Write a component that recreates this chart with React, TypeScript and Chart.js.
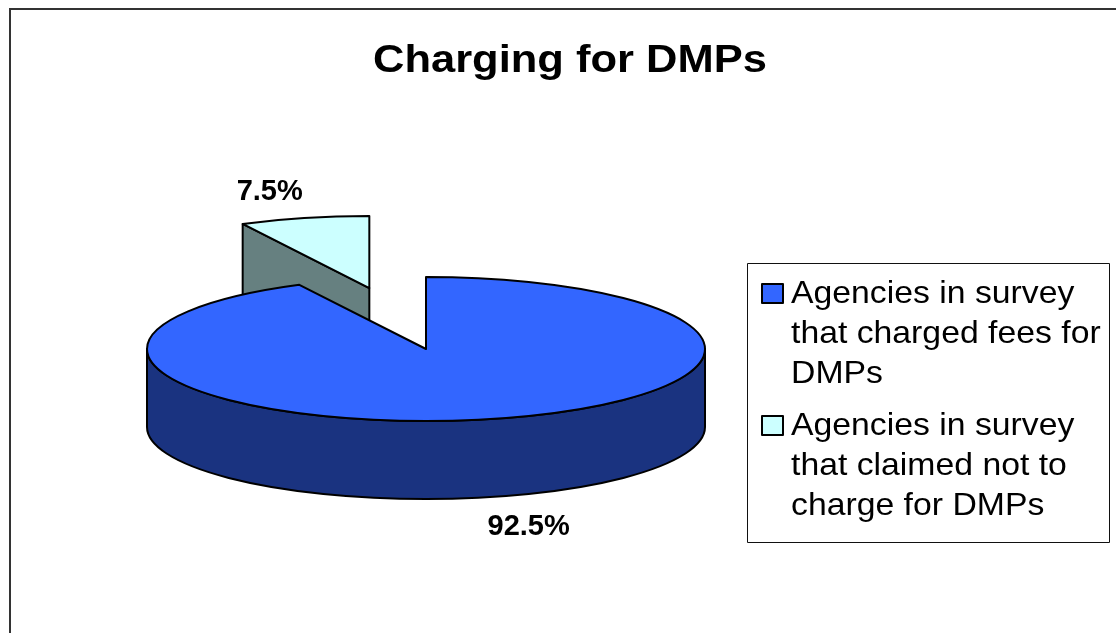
import React, { useEffect, useRef } from "react";
import { Chart, registerables } from "chart.js";

Chart.register(...registerables);

// ---- data ----
const TITLE = "Charging for DMPs";
const categories: string[][] = [
  ["Agencies in survey", "that charged fees for", "DMPs"],
  ["Agencies in survey", "that claimed not to", "charge for DMPs"],
];
const values: number[] = [92.5, 7.5];
const explodeFractions: number[] = [0, 0.87];

// ---- styles ----
const topColors = ["#3366FF", "#CCFFFF"];
const sideColors = ["#1A3380", "#668080"];
const W = 1108;
const H = 625;
const KX = 1.395; // horizontal stretch of the projected pie
const KY = 0.36; // vertical squash (tilt)
const KD = 0.39; // depth of the pie
const FONT = "Arial, 'Liberation Sans', Helvetica, sans-serif";

function visibleRanges(s: number, e: number): [number, number][] {
  const out: [number, number][] = [];
  for (let k = -2; k <= 2; k++) {
    const a = Math.max(s, 2 * Math.PI * k);
    const b = Math.min(e, 2 * Math.PI * k + Math.PI);
    if (b > a + 1e-6) out.push([a, b]);
  }
  return out;
}

function stretchedText(
  ctx: CanvasRenderingContext2D,
  text: string,
  x: number,
  y: number,
  sx: number,
  align: CanvasTextAlign
) {
  ctx.save();
  ctx.translate(x, y);
  ctx.scale(sx, 1);
  ctx.textAlign = align;
  ctx.fillText(text, 0, 0);
  ctx.restore();
}

const pie3dPlugin = {
  id: "pie3d",
  beforeDatasetsDraw() {
    return false;
  },
  afterDraw(chart: any) {
    const ctx: CanvasRenderingContext2D = chart.ctx;
    const meta = chart.getDatasetMeta(0);
    const slices = meta.data.map((el: any, i: number) => {
      const p = el.getProps(["x", "y", "startAngle", "endAngle", "outerRadius"], true);
      const R = p.outerRadius;
      const rx = R * KX;
      const ry = R * KY;
      const depth = R * KD;
      const mid = (p.startAngle + p.endAngle) / 2;
      const ex = explodeFractions[i] || 0;
      return {
        i,
        s: p.startAngle,
        e: p.endAngle,
        mid,
        rx,
        ry,
        depth,
        ox: p.x + Math.cos(mid) * ex * rx,
        oy: p.y + Math.sin(mid) * ex * ry,
      };
    });

    ctx.save();
    // frame
    ctx.fillStyle = "#333333";
    ctx.fillRect(1, 0, W, 2);
    ctx.fillRect(1, 0, 2, H);

    ctx.lineWidth = 2;
    ctx.lineJoin = "round";
    ctx.strokeStyle = "#000000";

    const order = [...slices].sort((a, b) => Math.sin(a.mid) - Math.sin(b.mid));
    for (const sl of order) {
      const { s, e, rx, ry, depth, ox, oy, i } = sl;
      // radial faces
      const faces: number[] = [];
      if (Math.cos(s) < -1e-3) faces.push(s);
      if (Math.cos(e) > 1e-3) faces.push(e);
      for (const a of faces) {
        const px = ox + rx * Math.cos(a);
        const py = oy + ry * Math.sin(a);
        ctx.beginPath();
        ctx.moveTo(ox, oy);
        ctx.lineTo(px, py);
        ctx.lineTo(px, py + depth);
        ctx.lineTo(ox, oy + depth);
        ctx.closePath();
        ctx.fillStyle = sideColors[i];
        ctx.fill();
        ctx.stroke();
      }
      // outer side
      for (const [a, b] of visibleRanges(s, e)) {
        ctx.beginPath();
        ctx.moveTo(ox + rx * Math.cos(a), oy + ry * Math.sin(a));
        ctx.ellipse(ox, oy, rx, ry, 0, a, b, false);
        ctx.lineTo(ox + rx * Math.cos(b), oy + ry * Math.sin(b) + depth);
        ctx.ellipse(ox, oy + depth, rx, ry, 0, b, a, true);
        ctx.closePath();
        ctx.fillStyle = sideColors[i];
        ctx.fill();
        ctx.stroke();
      }
      // top face
      ctx.beginPath();
      ctx.moveTo(ox, oy);
      ctx.ellipse(ox, oy, rx, ry, 0, s, e, false);
      ctx.closePath();
      ctx.fillStyle = topColors[i];
      ctx.fill();
      ctx.stroke();
    }

    // value labels
    const total = values.reduce((a, b) => a + b, 0);
    ctx.fillStyle = "#000000";
    ctx.font = `bold 29px ${FONT}`;
    ctx.textAlign = "center";
    ctx.textBaseline = "alphabetic";
    for (const sl of slices) {
      const pct = ((values[sl.i] / total) * 100).toFixed(1) + "%";
      const lx = sl.ox + Math.cos(sl.mid) * sl.rx * 1.53;
      const ly =
        sl.oy + Math.sin(sl.mid) * sl.ry * 1.4 + (Math.sin(sl.mid) > 0 ? sl.depth : 0);
      stretchedText(ctx, pct, lx + (Math.sin(sl.mid) > 0 ? 3 : 0), ly + 10.4, 1.0, "center");
    }

    // title
    ctx.font = `bold 38px ${FONT}`;
    stretchedText(ctx, TITLE, 562, 64, 1.145, "center");

    // legend
    ctx.font = `32px ${FONT}`;
    ctx.lineWidth = 1;
    ctx.strokeStyle = "#111111";
    ctx.strokeRect(739.5, 255.5, 362, 279);
    categories.forEach((lines, k) => {
      const base = 295 + k * 132;
      ctx.fillStyle = topColors[k];
      ctx.fillRect(754, base - 19, 21, 19);
      ctx.lineWidth = 2;
      ctx.strokeStyle = "#000000";
      ctx.strokeRect(754, base - 19, 21, 19);
      ctx.fillStyle = "#000000";
      lines.forEach((ln, j) => {
        stretchedText(ctx, ln, 783, base + j * 40, 1.055, "left");
      });
    });
    ctx.restore();
  },
};

export default function App() {
  const ref = useRef<HTMLCanvasElement | null>(null);
  useEffect(() => {
    if (!ref.current) return;
    const chart = new Chart(ref.current, {
      type: "pie",
      data: {
        labels: categories.map((c) => c.join(" ")),
        datasets: [
          {
            data: values,
            backgroundColor: topColors,
            borderWidth: 0,
            hoverOffset: 0,
            offset: 0,
          },
        ],
      },
      options: {
        responsive: false,
        animation: false,
        events: [],
        layout: { padding: { left: 218, right: W - 618, top: 141, bottom: H - 541 } },
        plugins: {
          legend: { display: false },
          title: { display: false },
          tooltip: { enabled: false },
        },
      },
      plugins: [pie3dPlugin],
    });
    return () => chart.destroy();
  }, []);
  return (
    <div
      style={{
        position: "fixed",
        left: 8,
        top: 8,
        width: W,
        height: H,
        overflow: "hidden",
        background: "#ffffff",
      }}
    >
      <canvas ref={ref} width={W} height={H} style={{ display: "block" }} />
    </div>
  );
}
